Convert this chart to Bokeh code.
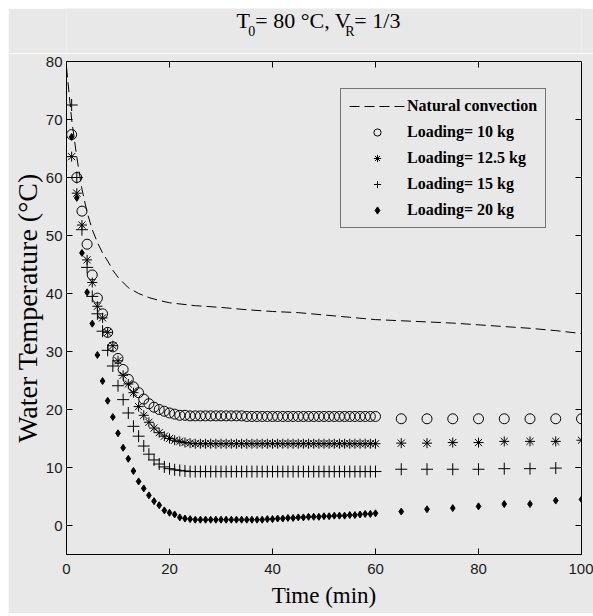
from bokeh.plotting import figure
from bokeh.models import Range1d, FixedTicker
from bokeh.layouts import column
from bokeh.core.properties import value
from bokeh.embed import file_html
from bokeh.resources import INLINE

# ---------------- data ----------------
time_min = [1, 2, 3, 4, 5, 6, 7, 8, 9, 10,
            11, 12, 13, 14, 15, 16, 17, 18, 19, 20,
            21, 22, 23, 24, 25, 26, 27, 28, 29, 30,
            31, 32, 33, 34, 35, 36, 37, 38, 39, 40,
            41, 42, 43, 44, 45, 46, 47, 48, 49, 50,
            51, 52, 53, 54, 55, 56, 57, 58, 59, 60,
            65, 70, 75, 80, 85, 90, 95, 100]

loading_10kg = [67.4, 60.0, 54.2, 48.5, 43.2, 39.2, 36.5, 33.3, 30.8, 28.8,
                26.9, 25.2, 23.9, 22.9, 21.8, 21.0, 20.4, 20.0, 19.7, 19.4,
                19.2, 19.0, 19.0, 18.9, 18.9, 18.9, 18.9, 18.9, 18.9, 18.9,
                18.9, 18.9, 18.9, 18.9, 18.8, 18.8, 18.8, 18.8, 18.8, 18.8,
                18.8, 18.8, 18.8, 18.8, 18.8, 18.8, 18.8, 18.8, 18.8, 18.8,
                18.8, 18.8, 18.8, 18.8, 18.8, 18.8, 18.8, 18.8, 18.8, 18.8,
                18.4, 18.4, 18.4, 18.4, 18.4, 18.4, 18.4, 18.4]

loading_12_5kg = [63.6, 57.3, 51.8, 45.8, 41.9, 37.8, 35.8, 33.3, 31.0, 28.4,
                  25.9, 24.4, 22.9, 20.5, 19.0, 17.8, 16.8, 16.0, 15.4, 15.0,
                  14.7, 14.5, 14.3, 14.2, 14.1, 14.1, 14.1, 14.1, 14.1, 14.1,
                  14.1, 14.1, 14.1, 14.1, 14.1, 14.1, 14.1, 14.1, 14.1, 14.1,
                  14.1, 14.1, 14.1, 14.1, 14.1, 14.1, 14.1, 14.1, 14.1, 14.1,
                  14.1, 14.1, 14.1, 14.1, 14.1, 14.1, 14.1, 14.1, 14.1, 14.1,
                  14.2, 14.2, 14.3, 14.3, 14.5, 14.5, 14.5, 14.7]

loading_15kg = [72.5, 60.0, 51.0, 44.5, 39.5, 36.5, 33.5, 30.2, 27.5, 24.1,
                21.7, 19.4, 17.1, 15.4, 13.7, 12.3, 11.3, 10.6, 10.1, 9.8,
                9.6, 9.5, 9.4, 9.3, 9.3, 9.3, 9.3, 9.3, 9.3, 9.3,
                9.3, 9.3, 9.3, 9.3, 9.3, 9.3, 9.3, 9.3, 9.3, 9.3,
                9.3, 9.3, 9.3, 9.3, 9.3, 9.3, 9.3, 9.3, 9.3, 9.3,
                9.3, 9.3, 9.3, 9.3, 9.3, 9.3, 9.3, 9.3, 9.3, 9.3,
                9.7, 9.7, 9.7, 9.7, 9.8, 9.8, 9.9, 10.0]

loading_20kg = [67.0, 56.5, 47.0, 40.2, 34.8, 29.4, 24.9, 21.5, 18.7, 15.9,
                13.4, 11.5, 9.4, 7.6, 6.4, 5.2, 4.2, 3.5, 2.6, 2.2,
                1.9, 1.4, 1.2, 1.1, 1.0, 1.0, 1.0, 1.0, 1.0, 1.0,
                1.0, 1.0, 1.0, 1.0, 1.0, 1.0, 1.0, 1.0, 1.1, 1.1,
                1.2, 1.2, 1.3, 1.3, 1.4, 1.4, 1.5, 1.5, 1.5, 1.6,
                1.6, 1.7, 1.7, 1.7, 1.8, 1.8, 1.9, 2.0, 2.0, 2.1,
                2.4, 2.8, 3.0, 3.3, 3.7, 3.7, 4.3, 4.5]

natural_time = [0, 1, 2, 3, 4, 5, 6, 7, 8, 9, 10, 12, 14, 16, 18, 20, 25, 30,
                35, 40, 45, 50, 55, 60, 65, 70, 75, 80, 85, 90, 95, 100]
natural_temp = [79.0, 70.0, 63.5, 58.0, 54.0, 51.0, 48.8, 47.0, 45.6, 44.0,
                42.8, 41.0, 40.0, 39.3, 38.8, 38.4, 37.9, 37.6, 37.2, 36.9,
                36.7, 36.3, 35.9, 35.5, 35.3, 35.1, 34.9, 34.6, 34.3, 34.0,
                33.6, 33.1]

x_ticks = [0, 20, 40, 60, 80, 100]
y_ticks = [0, 10, 20, 30, 40, 50, 60, 70, 80]
x_lo, x_hi = 0, 100
y_lo, y_hi = -5, 80

# title pieces: main text and subscripts
title_main = ["T", "= 80 °C, V", "= 1/3"]
title_sub = ["0", "R"]

# ---------------- styling ----------------
bg = "#e8e8e8"
serif = "Liberation Serif"
sans = "Liberation Sans"

W = 585
TITLE_H = 45
H = 560
B_LEFT, B_RIGHT, B_TOP, B_BOTTOM = 57, 12, 8, 59

# ---------------- title strip ----------------
t = figure(width=W, height=TITLE_H, x_range=Range1d(0, W), y_range=Range1d(0, TITLE_H),
           output_backend="svg", toolbar_location=None, title=None,
           x_axis_type=None, y_axis_type=None, min_border=0,
           background_fill_color=bg, border_fill_color=bg, outline_line_color=None)
t.grid.visible = False
t.text(x=[193, 214.5, 327], y=[32.7, 32.7, 32.7], text=title_main,
       text_font=value(serif), text_font_size=value("22px"), text_color="black",
       text_baseline="alphabetic", text_align="left")
t.text(x=[206.5, 316.5], y=[22.5, 22.5], text=title_sub,
       text_font=value(serif), text_font_size=value("14px"), text_color="black",
       text_baseline="alphabetic", text_align="left")

# ---------------- main figure ----------------
p = figure(width=W, height=H, x_range=Range1d(x_lo, x_hi), y_range=Range1d(y_lo, y_hi),
           output_backend="svg", toolbar_location=None, title=None,
           min_border_left=B_LEFT, min_border_right=B_RIGHT, min_border_top=B_TOP,
           min_border_bottom=B_BOTTOM, background_fill_color=bg, border_fill_color=bg)
p.grid.visible = False
p.outline_line_color = "black"
p.outline_line_width = 1

for ax in (p.xaxis[0], p.yaxis[0]):
    ax.major_tick_in = 6
    ax.major_tick_out = 0
    ax.minor_tick_line_color = None
    ax.axis_line_color = "black"
    ax.major_tick_line_color = "black"
    ax.major_label_text_font = sans
    ax.major_label_text_font_size = "15px"
    ax.major_label_text_color = "#1a1a1a"
    ax.axis_label_text_font = serif
    ax.axis_label_text_font_style = "normal"
    ax.axis_label_text_color = "black"

p.xaxis[0].ticker = FixedTicker(ticks=x_ticks)
p.yaxis[0].ticker = FixedTicker(ticks=y_ticks)
p.xaxis[0].axis_label = "Time (min)"
p.xaxis[0].axis_label_text_font_size = "23px"
p.xaxis[0].major_label_standoff = 9
p.xaxis[0].axis_label_standoff = 6
p.yaxis[0].axis_label = "Water Temperature (°C)"
p.yaxis[0].axis_label_text_font_size = "28px"
p.yaxis[0].major_label_standoff = 4
p.yaxis[0].axis_label_standoff = 0

# inward ticks on the top and right sides of the box (tick length 6 px)
frame_w = W - B_LEFT - B_RIGHT
frame_h = H - B_TOP - B_BOTTOM
tick_dy = 6 * (y_hi - y_lo) / frame_h
tick_dx = 6 * (x_hi - x_lo) / frame_w
p.segment(x0=x_ticks, y0=[y_hi] * len(x_ticks), x1=x_ticks,
          y1=[y_hi - tick_dy] * len(x_ticks), line_color="black", line_width=1)
p.segment(x0=[x_hi] * len(y_ticks), y0=y_ticks, x1=[x_hi - tick_dx] * len(y_ticks),
          y1=y_ticks, line_color="black", line_width=1)

# ---------------- series ----------------
p.line(natural_time, natural_temp, line_color="black", line_width=1,
       line_dash="10 5", legend_label="Natural convection")
p.scatter(time_min, loading_10kg, marker="circle", size=10, fill_color=None,
          line_color="black", line_width=1, legend_label="Loading= 10 kg")
p.scatter(time_min, loading_12_5kg, marker="asterisk", size=10,
          line_color="black", line_width=1, legend_label="Loading= 12.5 kg")
p.scatter(time_min, loading_15kg, marker="cross", size=12,
          line_color="black", line_width=1, legend_label="Loading= 15 kg")
p.scatter(time_min, loading_20kg, marker="diamond", size=7, fill_color="black",
          line_color="black", line_width=1, legend_label="Loading= 20 kg")

lg = p.legend[0]
lg.location = (274, 326)
lg.border_line_color = "black"
lg.border_line_width = 1
lg.background_fill_color = bg
lg.background_fill_alpha = 1
lg.label_text_font = serif
lg.label_text_font_style = "bold"
lg.label_text_font_size = "16px"
lg.label_text_color = "black"
lg.glyph_width = 56
lg.glyph_height = 18
lg.label_height = 18
lg.label_standoff = 2
lg.padding = 8
lg.spacing = 8
lg.margin = 0

layout = column(t, p, spacing=0, margin=(8, 0, 0, 8))

open("out.html", "w").write(file_html(layout, INLINE))
